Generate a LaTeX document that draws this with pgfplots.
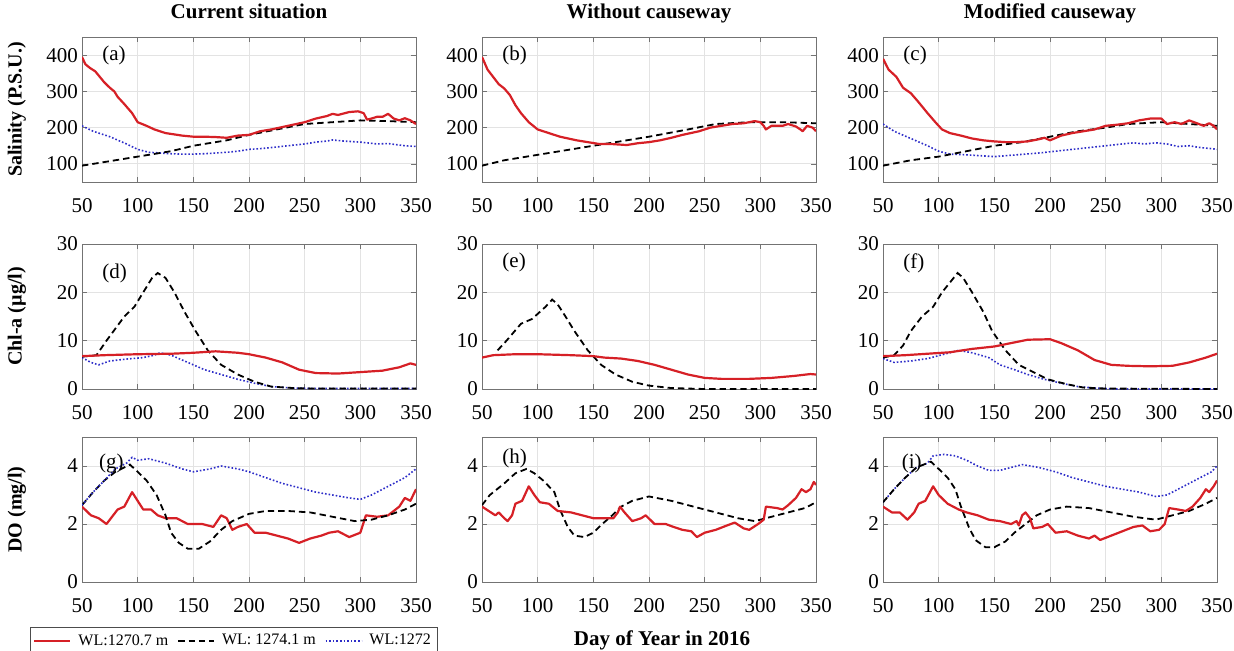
\documentclass[border=0pt]{standalone}
\usepackage{fontspec}
\setmainfont{Liberation Serif}
\usepackage{pgfplots}
\pgfplotsset{compat=1.18}
\definecolor{wlred}{RGB}{214,32,38}
\definecolor{wlblue}{RGB}{45,45,200}

\pgfplotsset{
  panel/.style={
    scale only axis, width=167pt, height=72.5pt, anchor=north west,
    xmin=50, xmax=350, xtick={50,100,...,350},
    grid=major, grid style={gray!22, line width=0.4pt},
    axis line style={black!55}, tick style={black!55},
    tick align=inside, major tick length=2.5pt,
    tick label style={font=\fontsize{10.5}{12}\selectfont},
    xticklabel style={yshift=-4.5pt},
    yticklabel style={xshift=1.5pt},
    /pgf/number format/assume math mode=true,
    ylabel style={font=\bfseries\fontsize{10}{12}\selectfont,
      at={(axis description cs:-0.195,0.5)}, anchor=center},
    title style={font=\bfseries\fontsize{10.5}{12}\selectfont,
      at={(axis description cs:0.5,1)}, anchor=base, yshift=3.5pt},
  },
  sal/.style={ymin=50, ymax=450, ytick={100,200,300,400}},
  chl/.style={ymin=0, ymax=30, ytick={0,10,20,30}},
  dox/.style={ymin=0, ymax=5, ytick={0,2,4}},
  sr/.style={color=wlred, line width=1.1pt, line join=round},
  sk/.style={black, dash pattern=on 3.2pt off 2pt, line width=0.9pt},
  sb/.style={color=wlblue, densely dotted, line width=0.8pt},
}
\tikzset{plab/.style={font=\fontsize{10.5}{12}\selectfont, anchor=west}}

\begin{document}
\begin{tikzpicture}
\path[use as bounding box] (0,0) rectangle (617pt,-325pt);

% ---------- row 1: salinity ----------
\begin{axis}[panel, sal, at={(41pt,-18.5pt)}, title={Current situation}, ylabel={Salinity (P.S.U.)}]
\addplot[sb] coordinates {(50,205)(60,190)(75,175)(90,155)(100,140)(110,132)(120,130)(130,128)(140,127)(150,127)(160,128)(170,130)(180,132)(190,135)(200,140)(210,142)(220,145)(235,150)(250,155)(260,160)(270,163)(275,166)(285,163)(300,160)(315,155)(325,156)(340,150)(350,148)};
\addplot[sk] coordinates {(50,95)(70,105)(90,115)(110,125)(130,135)(150,150)(180,165)(200,180)(225,195)(250,210)(275,215)(300,220)(325,218)(350,215)};
\addplot[sr] coordinates {(50,395)(53,375)(57,365)(62,355)(66,340)(70,325)(75,310)(79,300)(82,285)(88,265)(95,240)(100,215)(108,205)(115,195)(125,185)(140,178)(150,175)(160,175)(170,174)(180,172)(190,178)(200,180)(210,190)(220,195)(235,205)(250,215)(260,225)(270,232)(275,238)(280,235)(290,243)(298,245)(303,240)(306,222)(310,225)(315,230)(320,230)(325,238)(330,225)(335,220)(340,226)(345,220)(350,210)};
\node[plab] at (rel axis cs:0.04,0.87) {(a)};
\end{axis}

\begin{axis}[panel, sal, at={(241pt,-18.5pt)}, title={Without causeway}]
\addplot[sk] coordinates {(50,95)(70,110)(100,125)(130,140)(160,155)(200,175)(235,195)(260,210)(290,215)(320,215)(350,212)};
\addplot[sr] coordinates {(50,395)(55,360)(60,340)(65,320)(70,308)(75,290)(80,262)(85,240)(92,215)(100,195)(110,185)(120,175)(135,165)(145,160)(155,155)(165,155)(180,152)(190,157)(200,160)(210,165)(220,172)(230,180)(245,190)(255,200)(265,205)(275,210)(285,212)(295,218)(300,215)(303,205)(305,195)(310,205)(320,205)(325,210)(332,203)(336,195)(338,190)(342,205)(347,200)(350,190)};
\node[plab] at (rel axis cs:0.04,0.87) {(b)};
\end{axis}

\begin{axis}[panel, sal, at={(441.5pt,-18.5pt)}, title={Modified causeway}]
\addplot[sb] coordinates {(50,210)(60,190)(75,170)(90,150)(100,135)(110,127)(125,125)(140,122)(150,120)(170,125)(190,130)(205,135)(220,140)(235,145)(250,150)(265,155)(275,158)(285,155)(295,158)(305,155)(315,148)(325,150)(335,145)(345,142)(350,140)};
\addplot[sk] coordinates {(50,95)(75,110)(100,120)(125,135)(150,150)(175,160)(200,175)(225,190)(250,200)(270,210)(300,215)(325,210)(350,205)};
\addplot[sr] coordinates {(50,390)(55,360)(62,340)(68,310)(75,295)(82,270)(90,240)(97,215)(103,195)(110,185)(120,178)(130,170)(140,165)(150,162)(160,160)(170,160)(180,162)(190,168)(195,172)(200,165)(210,178)(220,185)(230,190)(240,195)(250,205)(260,208)(270,212)(280,220)(290,225)(300,225)(305,210)(312,215)(318,210)(325,220)(332,212)(338,205)(343,212)(347,205)(350,195)};
\node[plab] at (rel axis cs:0.04,0.87) {(c)};
\end{axis}

% ---------- row 2: Chl-a ----------
\begin{axis}[panel, chl, at={(41pt,-122pt)}, ylabel={Chl-a (µg/l)}]
\addplot[sb] coordinates {(50,6.5)(58,5.5)(65,5)(75,5.8)(90,6.2)(105,6.5)(115,7)(120,7.5)(130,7)(140,6)(150,5)(160,4)(175,3)(190,2)(205,1.2)(220,0.5)(240,0.2)(260,0.1)(350,0.1)};
\addplot[sk] coordinates {(50,6.7)(63,7)(72,10)(80,12.5)(88,15)(97,17)(105,20)(113,23)(118,24)(125,23)(133,20)(142,16)(152,12)(163,8)(175,5)(190,3)(205,1.5)(220,0.5)(240,0.2)(260,0.1)(350,0.1)};
\addplot[sr] coordinates {(50,6.8)(70,7)(100,7.2)(130,7.3)(150,7.5)(170,7.8)(190,7.5)(200,7.2)(215,6.5)(230,5.5)(245,4)(260,3.3)(280,3.2)(300,3.5)(320,3.8)(335,4.5)(345,5.3)(350,5)};
\node[plab] at (rel axis cs:0.04,0.8) {(d)};
\end{axis}

\begin{axis}[panel, chl, at={(241pt,-122pt)}]
\addplot[sk] coordinates {(64,8)(72,10)(85,13.5)(95,14.5)(107,17)(113,18.5)(118,17.5)(125,15)(133,12)(145,8)(157,5)(170,3)(185,1.5)(200,0.7)(220,0.2)(250,0)(350,0)};
\addplot[sr] coordinates {(50,6.5)(60,7)(80,7.2)(100,7.2)(130,7)(150,6.8)(160,6.5)(175,6.3)(190,5.8)(205,5)(220,4)(235,3)(250,2.3)(265,2.1)(290,2.1)(310,2.3)(330,2.7)(345,3.1)(350,3)};
\node[plab] at (rel axis cs:0.04,0.87) {(e)};
\end{axis}

\begin{axis}[panel, chl, at={(441.5pt,-122pt)}]
\addplot[sb] coordinates {(50,6.3)(60,5.5)(75,5.8)(90,6.3)(105,7.2)(118,8)(130,7.5)(145,6.5)(155,5)(168,4)(180,3)(195,2)(210,1.2)(225,0.5)(240,0.2)(260,0)(350,0)};
\addplot[sk] coordinates {(50,6.5)(60,7)(68,9)(75,12)(85,15)(95,17)(103,20)(110,22)(117,24)(122,23)(130,20)(140,16)(148,12)(160,8)(172,5)(185,3.5)(198,2)(215,1)(230,0.3)(250,0.1)(350,0)};
\addplot[sr] coordinates {(50,6.8)(70,7)(90,7.3)(110,7.6)(130,8.3)(150,8.8)(165,9.5)(180,10.2)(200,10.3)(210,9.5)(225,8)(240,6)(255,5)(270,4.8)(290,4.7)(310,4.8)(325,5.5)(340,6.5)(350,7.3)};
\node[plab] at (rel axis cs:0.04,0.87) {(f)};
\end{axis}

% ---------- row 3: DO ----------
\begin{axis}[panel, dox, at={(41pt,-218.5pt)}, ylabel={DO (mg/l)},
  legend columns=3,
  legend style={at={(rel axis cs:-0.156,-0.31)}, anchor=north west, draw=black!70,
    font=\fontsize{8}{10}\selectfont, inner sep=1.5pt, row sep=1pt, column sep=0pt,
    /tikz/every odd column/.append style={column sep=1.5pt},
    /tikz/every even column/.append style={column sep=2.5pt}},
  legend image code/.code={\draw[#1] (0pt,0pt) -- (18pt,0pt);}]
\addplot[sr] coordinates {(50,2.6)(58,2.3)(65,2.2)(72,2.0)(78,2.3)(82,2.5)(88,2.6)(95,3.1)(100,2.8)(105,2.5)(112,2.5)(118,2.3)(125,2.2)(135,2.2)(145,2.0)(158,2.0)(168,1.9)(175,2.3)(180,2.2)(185,1.8)(190,1.9)(198,2.0)(205,1.7)(215,1.7)(225,1.6)(235,1.5)(245,1.35)(255,1.5)(265,1.6)(272,1.7)(280,1.75)(290,1.55)(300,1.7)(305,2.3)(315,2.25)(325,2.3)(335,2.6)(340,2.9)(345,2.8)(350,3.2)};
\addlegendentry{WL:1270.7 m}
\addplot[sk] coordinates {(50,2.65)(60,3.1)(70,3.5)(80,3.8)(93,4.05)(100,3.8)(108,3.5)(117,3.0)(125,2.3)(130,1.7)(137,1.35)(145,1.15)(155,1.15)(165,1.4)(175,1.8)(185,2.1)(200,2.35)(215,2.45)(235,2.45)(255,2.4)(275,2.25)(295,2.1)(310,2.15)(325,2.3)(340,2.5)(350,2.7)};
\addlegendentry{WL: 1274.1 m}
\addplot[sb] coordinates {(50,2.65)(60,3.1)(70,3.5)(80,3.9)(90,4.1)(95,4.3)(100,4.2)(110,4.25)(125,4.1)(140,3.9)(150,3.8)(165,3.9)(175,4.0)(190,3.9)(200,3.8)(215,3.6)(230,3.4)(245,3.25)(260,3.1)(275,3.0)(290,2.9)(300,2.85)(310,3.0)(325,3.3)(340,3.6)(350,3.9)};
\addlegendentry{WL:1272}
\node[plab] at (rel axis cs:0.03,0.82) {(g)};
\end{axis}

\begin{axis}[panel, dox, at={(241pt,-218.5pt)}]
\addplot[sk] coordinates {(50,2.65)(57,3.0)(70,3.4)(80,3.75)(90,3.9)(97,3.75)(105,3.5)(115,3.1)(120,2.5)(127,1.9)(133,1.6)(142,1.55)(150,1.7)(158,2.0)(167,2.3)(175,2.6)(185,2.8)(200,2.95)(220,2.8)(240,2.6)(260,2.4)(280,2.2)(295,2.1)(310,2.25)(325,2.4)(340,2.55)(350,2.75)};
\addplot[sr] coordinates {(50,2.6)(58,2.4)(62,2.3)(65,2.4)(70,2.2)(73,2.1)(77,2.3)(80,2.7)(86,2.8)(92,3.3)(97,3.0)(102,2.75)(110,2.7)(118,2.45)(130,2.4)(140,2.3)(150,2.2)(160,2.2)(168,2.2)(172,2.4)(174,2.6)(178,2.4)(185,2.1)(193,2.2)(197,2.3)(205,2.0)(215,2.0)(222,1.9)(230,1.8)(238,1.75)(243,1.55)(250,1.7)(260,1.8)(270,1.95)(277,2.05)(285,1.85)(290,1.8)(298,2.0)(303,2.15)(305,2.6)(315,2.55)(320,2.5)(325,2.65)(332,2.9)(337,3.2)(341,3.1)(345,3.2)(348,3.45)(350,3.35)};
\node[plab] at (rel axis cs:0.04,0.855) {(h)};
\end{axis}

\begin{axis}[panel, dox, at={(441.5pt,-218.5pt)}]
\addplot[sb] coordinates {(50,2.75)(60,3.2)(70,3.6)(80,3.95)(90,4.1)(95,4.35)(105,4.4)(115,4.35)(125,4.2)(135,4.0)(145,3.85)(155,3.85)(165,3.95)(175,4.05)(190,3.95)(205,3.8)(220,3.6)(235,3.45)(250,3.3)(265,3.2)(280,3.1)(295,2.95)(305,3.0)(320,3.3)(335,3.6)(345,3.8)(350,4.0)};
\addplot[sk] coordinates {(50,2.75)(60,3.2)(70,3.6)(80,3.95)(93,4.15)(100,3.9)(108,3.6)(115,3.2)(120,2.6)(127,1.9)(133,1.45)(142,1.2)(150,1.2)(160,1.4)(168,1.7)(178,2.0)(188,2.3)(200,2.5)(215,2.6)(235,2.55)(255,2.4)(275,2.25)(295,2.15)(310,2.3)(325,2.45)(340,2.7)(350,2.9)};
\addplot[sr] coordinates {(50,2.6)(58,2.4)(65,2.4)(72,2.15)(78,2.4)(82,2.7)(88,2.8)(95,3.3)(100,3.0)(108,2.7)(118,2.5)(125,2.4)(135,2.3)(145,2.15)(155,2.1)(165,2.0)(170,2.1)(172,1.95)(175,2.3)(178,2.4)(182,2.2)(185,1.85)(193,1.9)(198,2.0)(205,1.7)(215,1.75)(225,1.6)(235,1.5)(240,1.6)(245,1.45)(255,1.6)(265,1.75)(275,1.9)(283,1.95)(290,1.75)(298,1.8)(303,2.0)(307,2.55)(315,2.5)(322,2.45)(328,2.6)(335,2.9)(340,3.2)(343,3.1)(347,3.3)(350,3.5)};
\node[plab] at (rel axis cs:0.035,0.82) {(i)};
\end{axis}

\node[font=\bfseries\fontsize{10.5}{12}\selectfont] at (331pt,-320pt) {Day of Year in 2016};
\end{tikzpicture}
\end{document}
